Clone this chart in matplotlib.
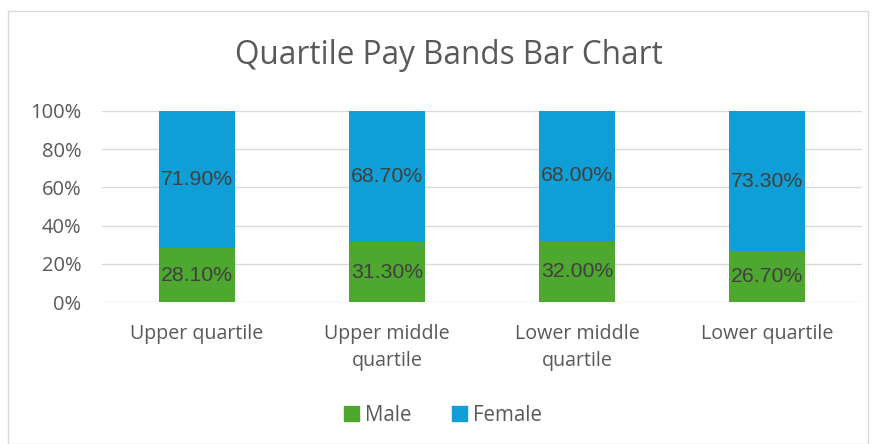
import matplotlib
matplotlib.use("Agg")
import matplotlib.pyplot as plt
from matplotlib.patches import Rectangle, Patch

categories = ["Upper quartile", "Upper middle\nquartile", "Lower middle\nquartile", "Lower quartile"]
male = [28.10, 31.30, 32.00, 26.70]
female = [71.90, 68.70, 68.00, 73.30]
yticks = [0, 20, 40, 60, 80, 100]
ytick_labels = ["0%", "20%", "40%", "60%", "80%", "100%"]

GREEN = "#4EA72E"
BLUE = "#0F9ED5"
TXT = "#595959"
LBL = "#404040"

plt.rcParams['font.family'] = ['Open Sans', 'DejaVu Sans']

fig = plt.figure(figsize=(8.77, 4.44), dpi=100)
W, H = 877, 444
ax = fig.add_axes([102 / W, 1 - 302 / H, 760 / W, 191 / H])

x = list(range(len(categories)))
ax.bar(x, male, width=0.395, color=GREEN, zorder=3)
ax.bar(x, female, bottom=male, width=0.395, color=BLUE, zorder=3)

for i in x:
    ax.text(i, male[i] / 2, f"{male[i]:.2f}%", ha="center", va="center",
            fontsize=15.3, color=LBL, family="Liberation Sans", zorder=4)
    ax.text(i, male[i] + female[i] / 2, f"{female[i]:.2f}%", ha="center", va="center",
            fontsize=15.3, color=LBL, family="Liberation Sans", zorder=4)

ax.set_xlim(-0.5, len(categories) - 0.5)
ax.set_ylim(0, 100)
ax.set_yticks(yticks)
ax.set_yticklabels(ytick_labels, fontsize=14.5, color=TXT)
ax.set_xticks(x)
ax.set_xticklabels(categories, fontsize=14.1, color=TXT, linespacing=1.45)
ax.tick_params(axis="both", length=0)
ax.tick_params(axis="y", pad=15)
ax.tick_params(axis="x", pad=16)
for s in ax.spines.values():
    s.set_visible(False)
ax.grid(axis="y", color="#D9D9D9", linewidth=1, zorder=0)
ax.set_axisbelow(True)

fig.text(449 / W, 1 - 55 / H, "Quartile Pay Bands Bar Chart", ha="center", va="center",
         fontsize=22.7, color=TXT)

handles = [Patch(color=GREEN, label="Male"), Patch(color=BLUE, label="Female")]
fig.legend(handles=handles, loc="center", bbox_to_anchor=(443 / W, 1 - 415 / H), ncol=2,
           frameon=False, fontsize=14.8, handlelength=0.7, handleheight=0.7,
           handletextpad=0.3, columnspacing=2.0, labelcolor=TXT)

fig.patches.append(Rectangle((8 / W, 0), (868 - 8) / W, 1 - 11 / H, transform=fig.transFigure,
                             fill=False, edgecolor="#D9D9D9", linewidth=1))

fig.savefig("out.png", dpi=100, facecolor="white")
